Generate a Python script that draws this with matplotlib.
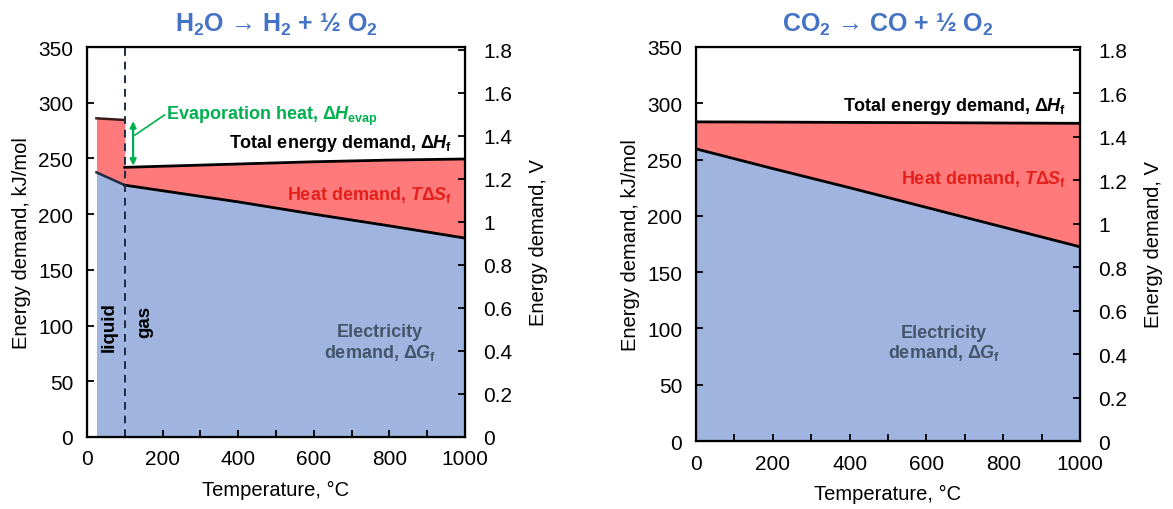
import matplotlib
matplotlib.use("Agg")
import matplotlib.pyplot as plt
import numpy as np

plt.rcParams['font.family'] = ['Liberation Sans', 'DejaVu Sans']
plt.rcParams['mathtext.fontset'] = 'custom'
plt.rcParams['mathtext.rm'] = 'Liberation Sans:bold'
plt.rcParams['mathtext.it'] = 'Liberation Sans:bold:italic'
plt.rcParams['mathtext.bf'] = 'Liberation Sans:bold'

# ---- data (kJ/mol) ----
h2o_T_liq = [25, 100]
h2o_dH_liq = [286, 284.5]
h2o_dG_liq = [237.5, 226]
h2o_T_gas = [100, 200, 400, 600, 800, 1000]
h2o_dH_gas = [242, 243, 245, 247, 248.5, 249.5]
h2o_dG_gas = [226, 221, 211, 200, 189.5, 178.5]

co2_T = [0, 200, 400, 600, 800, 1000]
co2_dH = [283.5, 283.3, 283.0, 282.8, 282.5, 282.2]
co2_dG = [259.5, 242, 225, 207.5, 190, 172.5]

x_ticks = [0, 100, 200, 300, 400, 500, 600, 700, 800, 900, 1000]
y_ticks = [0, 50, 100, 150, 200, 250, 300, 350]
v_ticks = [0, 0.2, 0.4, 0.6, 0.8, 1.0, 1.2, 1.4, 1.6, 1.8]
F2 = 2 * 96.485  # kJ/mol per V

BLUE = '#9fb5e0'
RED = '#ff7b7b'
TITLE = '#4472c4'
GREEN = '#00b050'
SLATE = '#44546a'
HEATRED = '#e3201b'

TICK = 15
LAB = 14.5
ANN = 13

fig = plt.figure(figsize=(11.73, 5.10), dpi=100)
axL = fig.add_axes([87/1173, 1-438/510, (465-87)/1173, (438-48)/510])
axR = fig.add_axes([696/1173, 1-442/510, (1080-696)/1173, (442-48)/510])

def style(ax, title):
    ax.set_xlim(0, 1000)
    ax.set_ylim(0, 350)
    ax.set_xticks(x_ticks)
    ax.set_xticklabels([str(t) if t % 200 == 0 else '' for t in x_ticks])
    ax.set_yticks(y_ticks)
    ax.tick_params(direction='in', length=5, width=1.3, labelsize=TICK)
    ax.tick_params(axis='y', pad=10)
    ax.tick_params(axis='x', pad=9)
    for s in ax.spines.values():
        s.set_linewidth(1.6)
    ax.set_xlabel('Temperature, °C', fontsize=LAB, labelpad=8)
    ax.set_ylabel('Energy demand, kJ/mol', fontsize=LAB, labelpad=5)
    ax.set_title(title, color=TITLE, fontsize=18, fontweight='bold', pad=12)
    tw = ax.twinx()
    tw.set_ylim(0, 350 / F2)
    tw.set_yticks(v_ticks)
    tw.set_yticklabels(['0' if v == 0 else ('1' if v == 1 else f'{v:.1f}') for v in v_ticks])
    tw.tick_params(direction='in', length=5, width=1.3, labelsize=TICK, pad=13)
    tw.set_ylabel('Energy demand, V', fontsize=LAB, labelpad=12)
    return tw

# ---- left: H2O ----
axL.fill_between(h2o_T_liq, 0, h2o_dG_liq, color=BLUE, lw=0)
axL.fill_between(h2o_T_liq, h2o_dG_liq, h2o_dH_liq, color=RED, lw=0)
axL.fill_between(h2o_T_gas, 0, h2o_dG_gas, color=BLUE, lw=0)
axL.fill_between(h2o_T_gas, h2o_dG_gas, h2o_dH_gas, color=RED, lw=0)
axL.plot(h2o_T_liq, h2o_dH_liq, color='#3a1a1a', lw=1.8)
axL.plot(h2o_T_liq, h2o_dG_liq, color='#1f2a44', lw=1.8)
axL.plot(h2o_T_gas, h2o_dH_gas, color='black', lw=2)
axL.plot(h2o_T_gas, h2o_dG_gas, color='black', lw=2)
axL.axvline(100, color='#1f2a44', lw=1.4, ls=(0, (4, 3)))
style(axL, r'H$_2$O → H$_2$ + ½ O$_2$')

axL.annotate('', xy=(122, 243.5), xytext=(122, 283.5),
             arrowprops=dict(arrowstyle='<|-|>', color=GREEN, lw=1.6,
                             mutation_scale=9, shrinkA=0, shrinkB=0))
axL.plot([127, 205], [271, 289], color=GREEN, lw=1.2)
axL.text(208, 289, r'Evaporation heat, $\Delta H_{\mathrm{evap}}$', color=GREEN,
         fontsize=ANN, fontweight='bold', va='center', ha='left')
axL.text(965, 264, r'Total energy demand, $\Delta H_{\mathrm{f}}$', color='black',
         fontsize=ANN, fontweight='bold', va='center', ha='right')
axL.text(965, 218, r'Heat demand, $T\Delta S_{\mathrm{f}}$', color=HEATRED,
         fontsize=ANN, fontweight='bold', va='center', ha='right')
axL.text(775, 85, 'Electricity\n' + r'demand, $\Delta G_{\mathrm{f}}$', color=SLATE,
         fontsize=ANN, fontweight='bold', va='center', ha='center', linespacing=1.1)
axL.text(58, 100, 'liquid', rotation=90, fontsize=13.5, fontweight='bold',
         va='center', ha='center')
axL.text(152, 104, 'gas', rotation=90, fontsize=13.5, fontweight='bold',
         va='center', ha='center')

# ---- right: CO2 ----
axR.fill_between(co2_T, 0, co2_dG, color=BLUE, lw=0)
axR.fill_between(co2_T, co2_dG, co2_dH, color=RED, lw=0)
axR.plot(co2_T, co2_dH, color='black', lw=2)
axR.plot(co2_T, co2_dG, color='black', lw=2)
style(axR, r'CO$_2$ → CO + ½ O$_2$')
axR.text(965, 298, r'Total energy demand, $\Delta H_{\mathrm{f}}$', color='black',
         fontsize=ANN, fontweight='bold', va='center', ha='right')
axR.text(965, 234, r'Heat demand, $T\Delta S_{\mathrm{f}}$', color=HEATRED,
         fontsize=ANN, fontweight='bold', va='center', ha='right')
axR.text(645, 87, 'Electricity\n' + r'demand, $\Delta G_{\mathrm{f}}$', color=SLATE,
         fontsize=ANN, fontweight='bold', va='center', ha='center', linespacing=1.1)

fig.savefig('out.png', dpi=100)
